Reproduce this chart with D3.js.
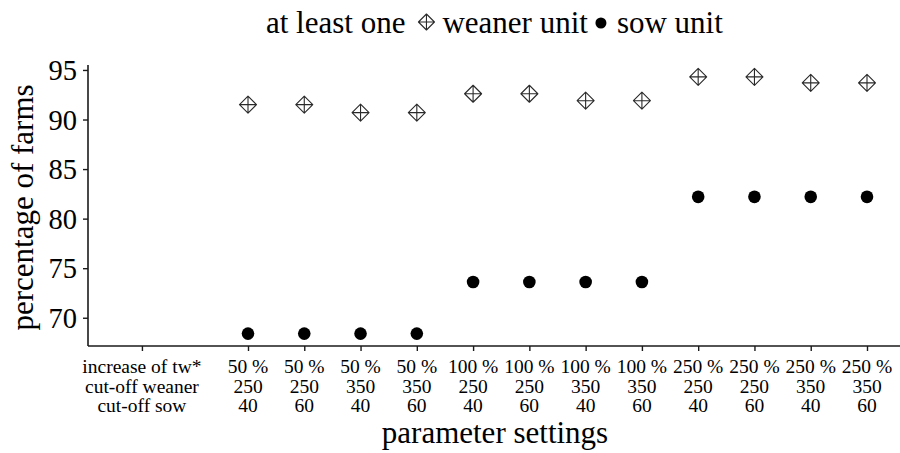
<!DOCTYPE html>
<html>
<head>
<meta charset="utf-8">
<script src="https://cdn.jsdelivr.net/npm/d3@7/dist/d3.min.js"></script>
<style>
  html, body { margin: 0; padding: 0; background: #fff; }
  svg, svg text { font-family: "Liberation Serif", "Times New Roman", serif; }
</style>
</head>
<body>
<svg id="chart" width="900" height="453"></svg>
<script>
// Parameter settings (one column per scenario)
const increaseTw   = ["50 %", "50 %", "50 %", "50 %", "100 %", "100 %", "100 %", "100 %", "250 %", "250 %", "250 %", "250 %"];
const cutoffWeaner = [250, 250, 350, 350, 250, 250, 350, 350, 250, 250, 350, 350];
const cutoffSow    = [40, 60, 40, 60, 40, 60, 40, 60, 40, 60, 40, 60];

// Share of farms with at least one unit of each type (%)
const weanerPct = [91.5, 91.5, 90.7, 90.7, 92.6, 92.6, 91.9, 91.9, 94.3, 94.3, 93.7, 93.7];
const sowPct    = [68.4, 68.4, 68.4, 68.4, 73.6, 73.6, 73.6, 73.6, 82.2, 82.2, 82.2, 82.2];

// Row captions shown under the extra leading tick
const rowLabels = ["increase of tw*", "cut-off weaner", "cut-off sow"];
const rowLabelPos = -1.885;

const yTicks = [70, 75, 80, 85, 90, 95];
const yDomain = [67.15, 95.5];

const legendTitle = "at least one";
const seriesNames = ["weaner unit", "sow unit"];

const FONT = "Liberation Serif";
const svg = d3.select("#chart").attr("font-family", FONT);
const panel = { left: 88, top: 65, bottom: 346, right: 920 };

const idx = d3.range(increaseTw.length);
const x = d3.scaleLinear().domain([0, increaseTw.length - 1]).range([248, 867]);
const y = d3.scaleLinear().domain(yDomain).range([panel.bottom, panel.top]);

const ink = "#1a1a1a";

// ---- y axis
const yAxis = d3.axisLeft(y).tickValues(yTicks).tickSize(5).tickPadding(6).tickFormat(d3.format("d"));
const gy = svg.append("g").attr("transform", `translate(${panel.left},0)`).call(yAxis)
  .attr("font-family", FONT).attr("font-size", 28.5);
gy.select(".domain").attr("stroke", ink).attr("stroke-width", 1.6)
  .attr("d", `M0,${panel.top}V${panel.bottom}`);
gy.selectAll(".tick line").attr("stroke", ink).attr("stroke-width", 1.4);
gy.selectAll(".tick text").attr("fill", "#000").attr("dy", "0.34em");

// ---- x axis (settings ticks plus the caption tick)
const xTickVals = [rowLabelPos, ...idx];
const xAxis = d3.axisBottom(x).tickValues(xTickVals).tickSize(5).tickFormat(() => "");
const gx = svg.append("g").attr("transform", `translate(0,${panel.bottom})`).call(xAxis);
gx.select(".domain").attr("stroke", ink).attr("stroke-width", 1.6)
  .attr("d", `M${panel.left},0H${panel.right}`);
gx.selectAll(".tick line").attr("stroke", ink).attr("stroke-width", 1.4);
gx.selectAll(".tick text").remove();

const rowY = [373, 392.5, 412];
const labelRows = [increaseTw, cutoffWeaner, cutoffSow];
const xl = svg.append("g").attr("font-family", FONT).attr("font-size", 19.5)
  .attr("fill", "#000").attr("text-anchor", "middle");
rowLabels.forEach((t, r) => {
  xl.append("text").attr("x", x(rowLabelPos)).attr("y", rowY[r]).text(t);
});
labelRows.forEach((row, r) => {
  xl.selectAll(null).data(idx).enter().append("text")
    .attr("x", i => x(i)).attr("y", rowY[r]).text(i => row[i]);
});

// ---- axis titles
svg.append("text").attr("x", 495).attr("y", 443).attr("text-anchor", "middle")
  .attr("font-family", FONT).attr("font-size", 31).attr("fill", "#000").text("parameter settings");
svg.append("text").attr("transform", `translate(33,${(panel.top + panel.bottom) / 2 + 2}) rotate(-90)`)
  .attr("text-anchor", "middle").attr("font-family", FONT).attr("font-size", 31)
  .attr("fill", "#000").text("percentage of farms");

// ---- marks
function diamondPlus(g, cx, cy, h) {
  g.append("path")
    .attr("d", `M${cx},${cy - h}L${cx + h},${cy}L${cx},${cy + h}L${cx - h},${cy}Z` +
               `M${cx},${cy - h}V${cy + h}M${cx - h},${cy}H${cx + h}`)
    .attr("fill", "none").attr("stroke", "#2a2a2a").attr("stroke-width", 1.1)
    .attr("stroke-linejoin", "round");
}

const gW = svg.append("g");
idx.forEach(i => diamondPlus(gW, x(i), y(weanerPct[i]), 8.5));

svg.append("g").selectAll("circle").data(idx).enter().append("circle")
  .attr("cx", i => x(i)).attr("cy", i => y(sowPct[i])).attr("r", 6.3).attr("fill", "#000");

// ---- legend at top, laid out left to right
const lg = svg.append("g").attr("font-family", FONT).attr("font-size", 31).attr("fill", "#000");
let cx = 266;
const baseY = 33;
const t0 = lg.append("text").attr("x", cx).attr("y", baseY).text(legendTitle);
cx += t0.node().getComputedTextLength();
cx += 21;
diamondPlus(lg, cx, 22, 8);
cx += 16;
const t1 = lg.append("text").attr("x", cx).attr("y", baseY).text(seriesNames[0]);
cx += t1.node().getComputedTextLength();
cx += 13;
lg.append("circle").attr("cx", cx).attr("cy", 23).attr("r", 5.5).attr("fill", "#000");
cx += 16;
lg.append("text").attr("x", cx).attr("y", baseY).text(seriesNames[1]);
</script>
</body>
</html>
